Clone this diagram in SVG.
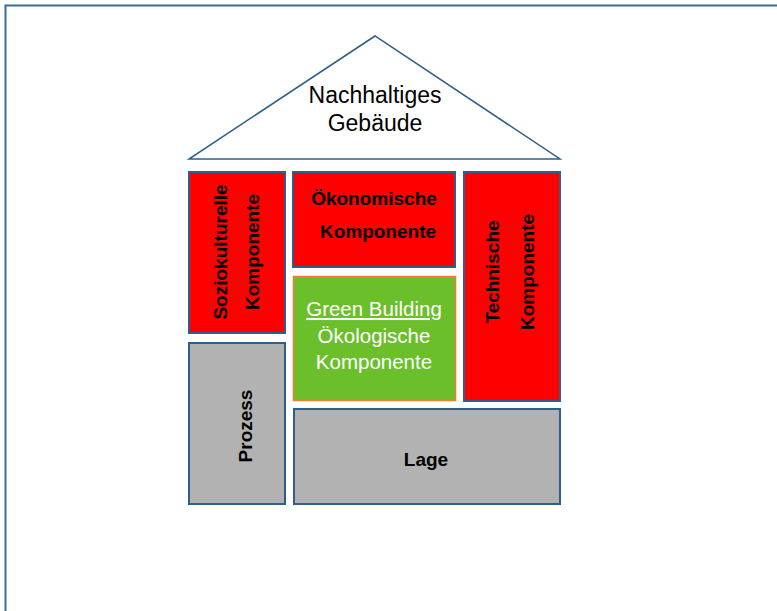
<svg xmlns="http://www.w3.org/2000/svg" width="777" height="611" viewBox="0 0 777 611">
<style>
.box{stroke:#2d5f8c;stroke-width:2}
.red{fill:#ff0000}
.gray{fill:#b2b2b2}
.t{font-family:"Liberation Sans",Arial,sans-serif;text-anchor:middle}
.b{font-weight:bold;font-size:19px;fill:#000}
.w{font-size:20.5px;fill:#fff}
</style>
<rect x="5.5" y="5.5" width="800" height="620" fill="#fff" stroke="#3a6a96" stroke-width="2"/>
<g id="roof">
<polygon points="375,36 189,159 560,159" fill="#fff" stroke="#2d5f8c" stroke-width="1.5"/>
<text class="t" x="375" y="103" font-size="23" fill="#000">Nachhaltiges</text>
<text class="t" x="375" y="131" font-size="23" fill="#000">Gebäude</text>
</g>
<g id="sozio">
<rect class="box red" x="189" y="172" width="96" height="161"/>
<text class="t b" transform="translate(227,252) rotate(-90)">Soziokulturelle</text>
<text class="t b" transform="translate(259,252) rotate(-90)">Komponente</text>
</g>
<g id="oeko">
<rect class="box red" x="293" y="172" width="162" height="95"/>
<text class="t b" x="374" y="205">Ökonomische</text>
<text class="t b" x="378" y="238">Komponente</text>
</g>
<g id="green">
<rect x="293.5" y="276.5" width="162" height="124" fill="#6abf2b" stroke="#ed7d31" stroke-width="1.5"/>
<text class="t w" x="374" y="316" text-decoration="underline">Green Building</text>
<text class="t w" x="374" y="343">Ökologische</text>
<text class="t w" x="374" y="369">Komponente</text>
</g>
<g id="technik">
<rect class="box red" x="464" y="172" width="96" height="229"/>
<text class="t b" transform="translate(499,272) rotate(-90)">Technische</text>
<text class="t b" transform="translate(534,272) rotate(-90)">Komponente</text>
</g>
<g id="prozess">
<rect class="box gray" x="189" y="343" width="96" height="161"/>
<text class="t b" transform="translate(252,426) rotate(-90)">Prozess</text>
</g>
<g id="lage">
<rect class="box gray" x="294" y="409" width="266" height="95"/>
<text class="t b" x="426" y="466">Lage</text>
</g>
<g id="connectors"></g>
</svg>
